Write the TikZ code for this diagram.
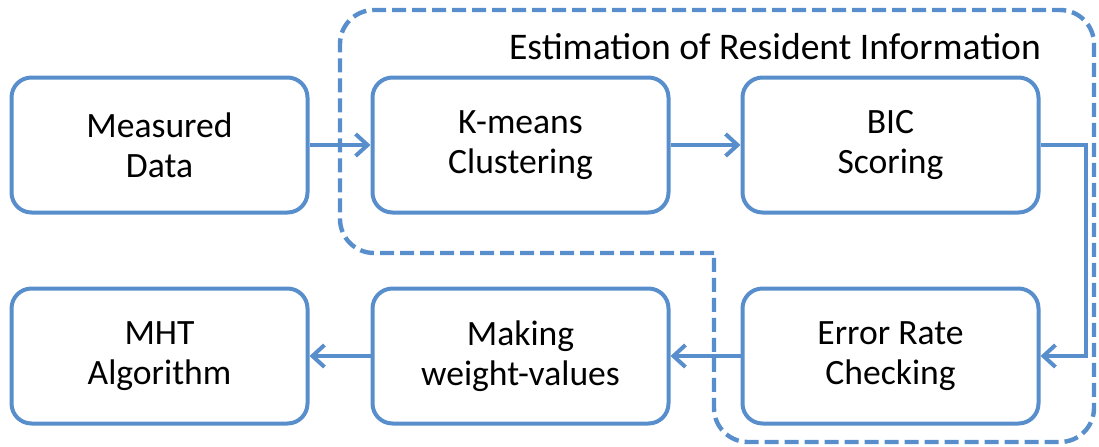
\documentclass[tikz,border=0pt]{standalone}
\usepackage{fontspec}
\setmainfont{Carlito}
\usetikzlibrary{arrows.meta, positioning}

\definecolor{boxblue}{RGB}{88,142,204}

\tikzset{
  stage/.style={draw=boxblue, line width=2pt, rounded corners=10pt, fill=white,
    minimum width=148pt, minimum height=67.5pt, inner sep=0pt, align=center,
    font=\fontsize{17.8}{20}\selectfont},
  flow/.style={draw=boxblue, line width=2pt, -{Straight Barb[length=6pt,width=11pt]}},
  region/.style={draw=boxblue, line width=2.2pt, dash pattern=on 7pt off 3pt, rounded corners=17pt}
}

\begin{document}
\begin{tikzpicture}[x=0.5pt, y=-0.5pt]
\useasboundingbox (0,0) rectangle (1099,446);

% dashed frame round the estimation steps
\draw [region] (714,253) -- (340,253) -- (340,10) -- (1094,10) -- (1094,442) -- (714,442) -- (714,253);
\node (title) at (775,47) {\fontsize{18.8}{22}\selectfont Estimation of Resident Information};

% upper row
\node [stage] (data) at (159.5,145) {Measured\\Data};
\node [stage, right=30.5pt of data] (kmeans) {K-means\\Clustering};
\node [stage, right=35pt of kmeans] (bic) {BIC\\Scoring};

% lower row
\node [stage, below=36pt of bic] (error) {Error Rate\\Checking};
\node [stage, below=36pt of kmeans] (weight) {Making\\weight-values};
\node [stage, below=36pt of data] (mht) {MHT\\Algorithm};

\coordinate (bend) at ([xshift=22.5pt]bic.east);

\draw [flow] (data) -- (kmeans);
\draw [flow] (kmeans) -- (bic);
\draw [flow] (bic.east) -- (bend) |- (error.east);
\draw [flow] (error) -- (weight);
\draw [flow] (weight) -- (mht);
\end{tikzpicture}
\end{document}
